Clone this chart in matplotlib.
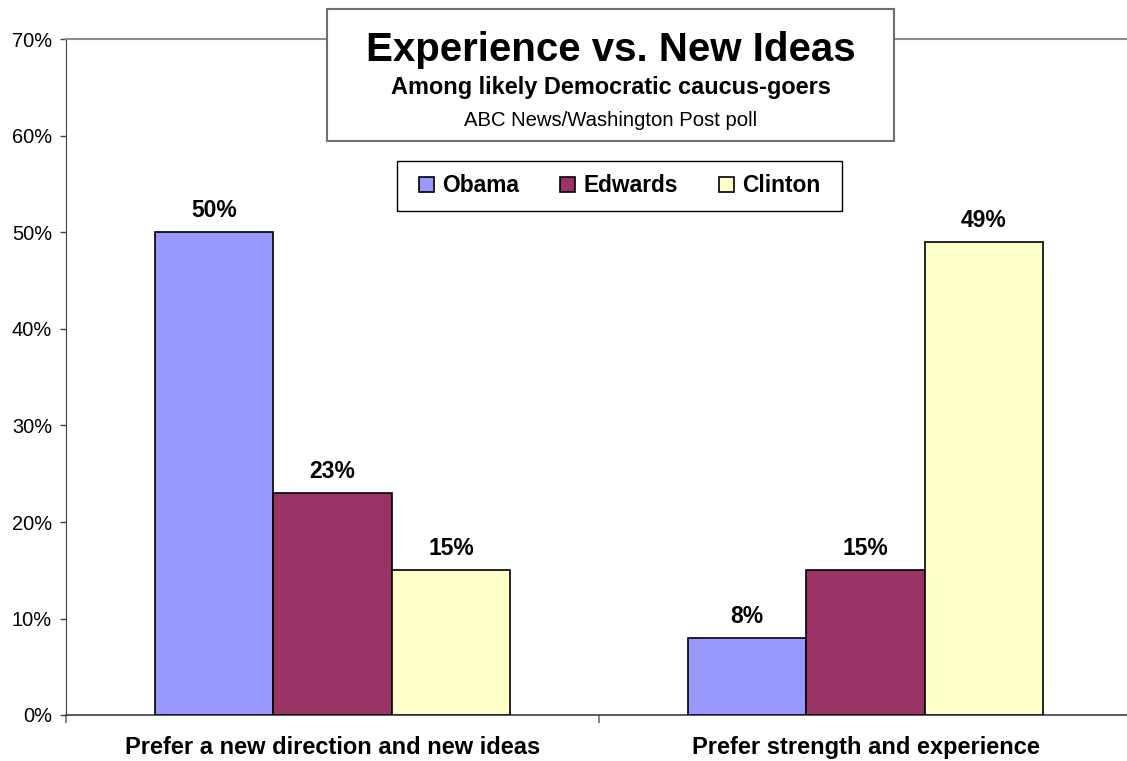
import numpy as np
import matplotlib
matplotlib.use("Agg")
import matplotlib.pyplot as plt
from matplotlib.patches import Rectangle

plt.rcParams['font.family'] = ['Liberation Sans', 'DejaVu Sans']

# data
categories = ["Prefer a new direction and new ideas", "Prefer strength and experience"]
candidates = ["Obama", "Edwards", "Clinton"]
obama = [50, 8]
edwards = [23, 15]
clinton = [15, 49]
colors = ["#9999FF", "#993366", "#FFFFCC"]

W, H = 1127, 761
fig = plt.figure(figsize=(W / 100, H / 100), dpi=100)
ax = fig.add_axes([66 / W, (H - 715) / H, 1066 / W, (715 - 39.5) / H])

x = np.arange(len(categories))
bw = 2 / 9
series = [obama, edwards, clinton]
for i, (vals, name, col) in enumerate(zip(series, candidates, colors)):
    bars = ax.bar(x + (i - 1) * bw, vals, width=bw, color=col, edgecolor="black",
                  linewidth=1.2, label=name, zorder=3)
    for b, v in zip(bars, vals):
        ax.annotate(f"{v}%", (b.get_x() + b.get_width() / 2, v),
                    xytext=(0, 10.8), textcoords="offset points",
                    ha="center", va="baseline", fontsize=16.5, fontweight="bold")

ax.set_xlim(-0.5, 1.5)
ax.set_ylim(0, 70)
ax.set_yticks(range(0, 71, 10))
ax.set_yticklabels([f"{t}%" for t in range(0, 71, 10)], fontsize=14.4)
ax.tick_params(axis="y", direction="out", length=4.3, width=1, pad=5.8, color="#404040")

ax.set_xticks(x)
ax.set_xticklabels(categories, fontsize=17, fontweight="bold")
ax.tick_params(axis="x", which="major", length=0, pad=15)
ax.set_xticks([-0.5, 0.5, 1.5], minor=True)
ax.tick_params(axis="x", which="minor", direction="out", length=5.8, width=1.2, color="#707070")

ax.spines["right"].set_visible(False)
ax.spines["top"].set_color("#8c8c8c")
ax.spines["top"].set_linewidth(1.5)
ax.spines["left"].set_color("#404040")
ax.spines["bottom"].set_color("#404040")
ax.spines["bottom"].set_linewidth(1.2)

# title box
fig.patches.append(Rectangle((327 / W, 1 - 141 / H), (894 - 327) / W, (141 - 9) / H,
                             transform=fig.transFigure, facecolor="white",
                             edgecolor="#707070", linewidth=1.5, zorder=5))
cx = 610.5 / W
fig.text(cx, 1 - 61 / H, "Experience vs. New Ideas", ha="center", va="baseline",
         fontsize=29, fontweight="bold", zorder=6)
fig.text(cx, 1 - 94 / H, "Among likely Democratic caucus-goers", ha="center", va="baseline",
         fontsize=16.9, fontweight="bold", zorder=6)
fig.text(cx, 1 - 126 / H, "ABC News/Washington Post poll", ha="center", va="baseline",
         fontsize=14.6, zorder=6)

# legend box
fig.patches.append(Rectangle((397 / W, 1 - 211 / H), (842 - 397) / W, (211 - 161) / H,
                             transform=fig.transFigure, facecolor="white",
                             edgecolor="black", linewidth=1.0, zorder=5))
leg = fig.legend(loc="center left", bbox_to_anchor=(419 / W, 1 - 186 / H), ncol=3,
                 frameon=False, borderpad=0, borderaxespad=0,
                 handlelength=0.66, handleheight=0.66, handletextpad=0.35,
                 columnspacing=1.82, prop={"size": 16.4, "weight": "bold"})
leg.set_zorder(7)

fig.savefig("out.png", dpi=100)
